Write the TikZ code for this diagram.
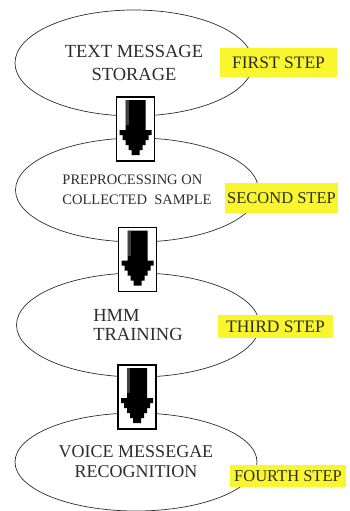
\documentclass[tikz,border=0pt]{standalone}
\usepackage{fontspec}
\setmainfont{Liberation Serif}
\usetikzlibrary{shapes.geometric, calc}
\definecolor{MarkerYellow}{RGB}{250, 246, 45}
\definecolor{InkGrey}{RGB}{45, 45, 45}

\tikzset{
  stage/.style={ellipse, draw=InkGrey, line width=0.7pt, inner sep=0pt, text=InkGrey},
  steptag/.style={fill=MarkerYellow, text=InkGrey, inner sep=0pt, font=\fontsize{17.5}{20}\selectfont},
  arrowbox/.style={draw=black, line width=1.3pt, fill=white, minimum width=38pt, minimum height=64pt, inner sep=0pt}
}

\begin{document}
\begin{tikzpicture}[x=1pt, y=-1pt]
    \useasboundingbox (0,0) rectangle (350,511);
    \clip (0,0) rectangle (350,511);
    % the four stages
    \node[stage, align=center, minimum width=238pt, minimum height=106pt, font=\fontsize{18.5}{23}\selectfont] (storage) at (134,63) {TEXT MESSAGE\\STORAGE};
    \node[stage, align=left, minimum width=243pt, minimum height=104pt, font=\fontsize{14.5}{20}\selectfont] (prep) at (137,190) {PREPROCESSING ON\\COLLECTED\ \ SAMPLE};
    \node[stage, align=left, minimum width=243pt, minimum height=104pt, font=\fontsize{18.5}{19}\selectfont] (hmm) at (138,325) {HMM\\TRAINING};
    \node[stage, align=center, minimum width=242pt, minimum height=98pt, font=\fontsize{18}{20}\selectfont] (voice) at (136,462) {VOICE MESSEGAE\\RECOGNITION};
    % boxed arrows between stages
    \foreach \up/\down [count=\i] in {storage/prep, prep/hmm, hmm/voice} {
        \node[arrowbox, yshift=-2pt] (box\i) at ($(\up.south)!0.5!(\down.north)$) {};
        \begin{scope}[shift={(box\i.center)}]
            \fill[black] (-10,-29) -- (10,-29) -- (10,1) -- (16,1) -- (16,6) -- (13,6) -- (13,11)
                -- (10,11) -- (10,16) -- (7,16) -- (7,21) -- (4,21) -- (4,26) -- (-4,26) -- (-4,21)
                -- (-7,21) -- (-7,16) -- (-10,16) -- (-10,11) -- (-13,11) -- (-13,6) -- (-16,6)
                -- (-16,1) -- (-10,1) -- cycle;
            \fill[black!75] (-10,-29) rectangle (-7,-4);
        \end{scope}
    }
    % step labels
    \node[steptag, minimum width=117pt, minimum height=29pt] (first) at (278.5,62.5) {FIRST STEP};
    \node[steptag, minimum width=113pt, minimum height=30pt, font=\fontsize{16.5}{20}\selectfont] (second) at (281.5,198) {SECOND STEP};
    \node[steptag, minimum width=115pt, minimum height=23pt] (third) at (275.5,326.5) {THIRD STEP};
    \node[steptag, anchor=west, inner xsep=4pt, minimum height=22pt, font=\fontsize{16.5}{20}\selectfont] (fourth) at (230,476) {FOURTH STEP};
\end{tikzpicture}
\end{document}
